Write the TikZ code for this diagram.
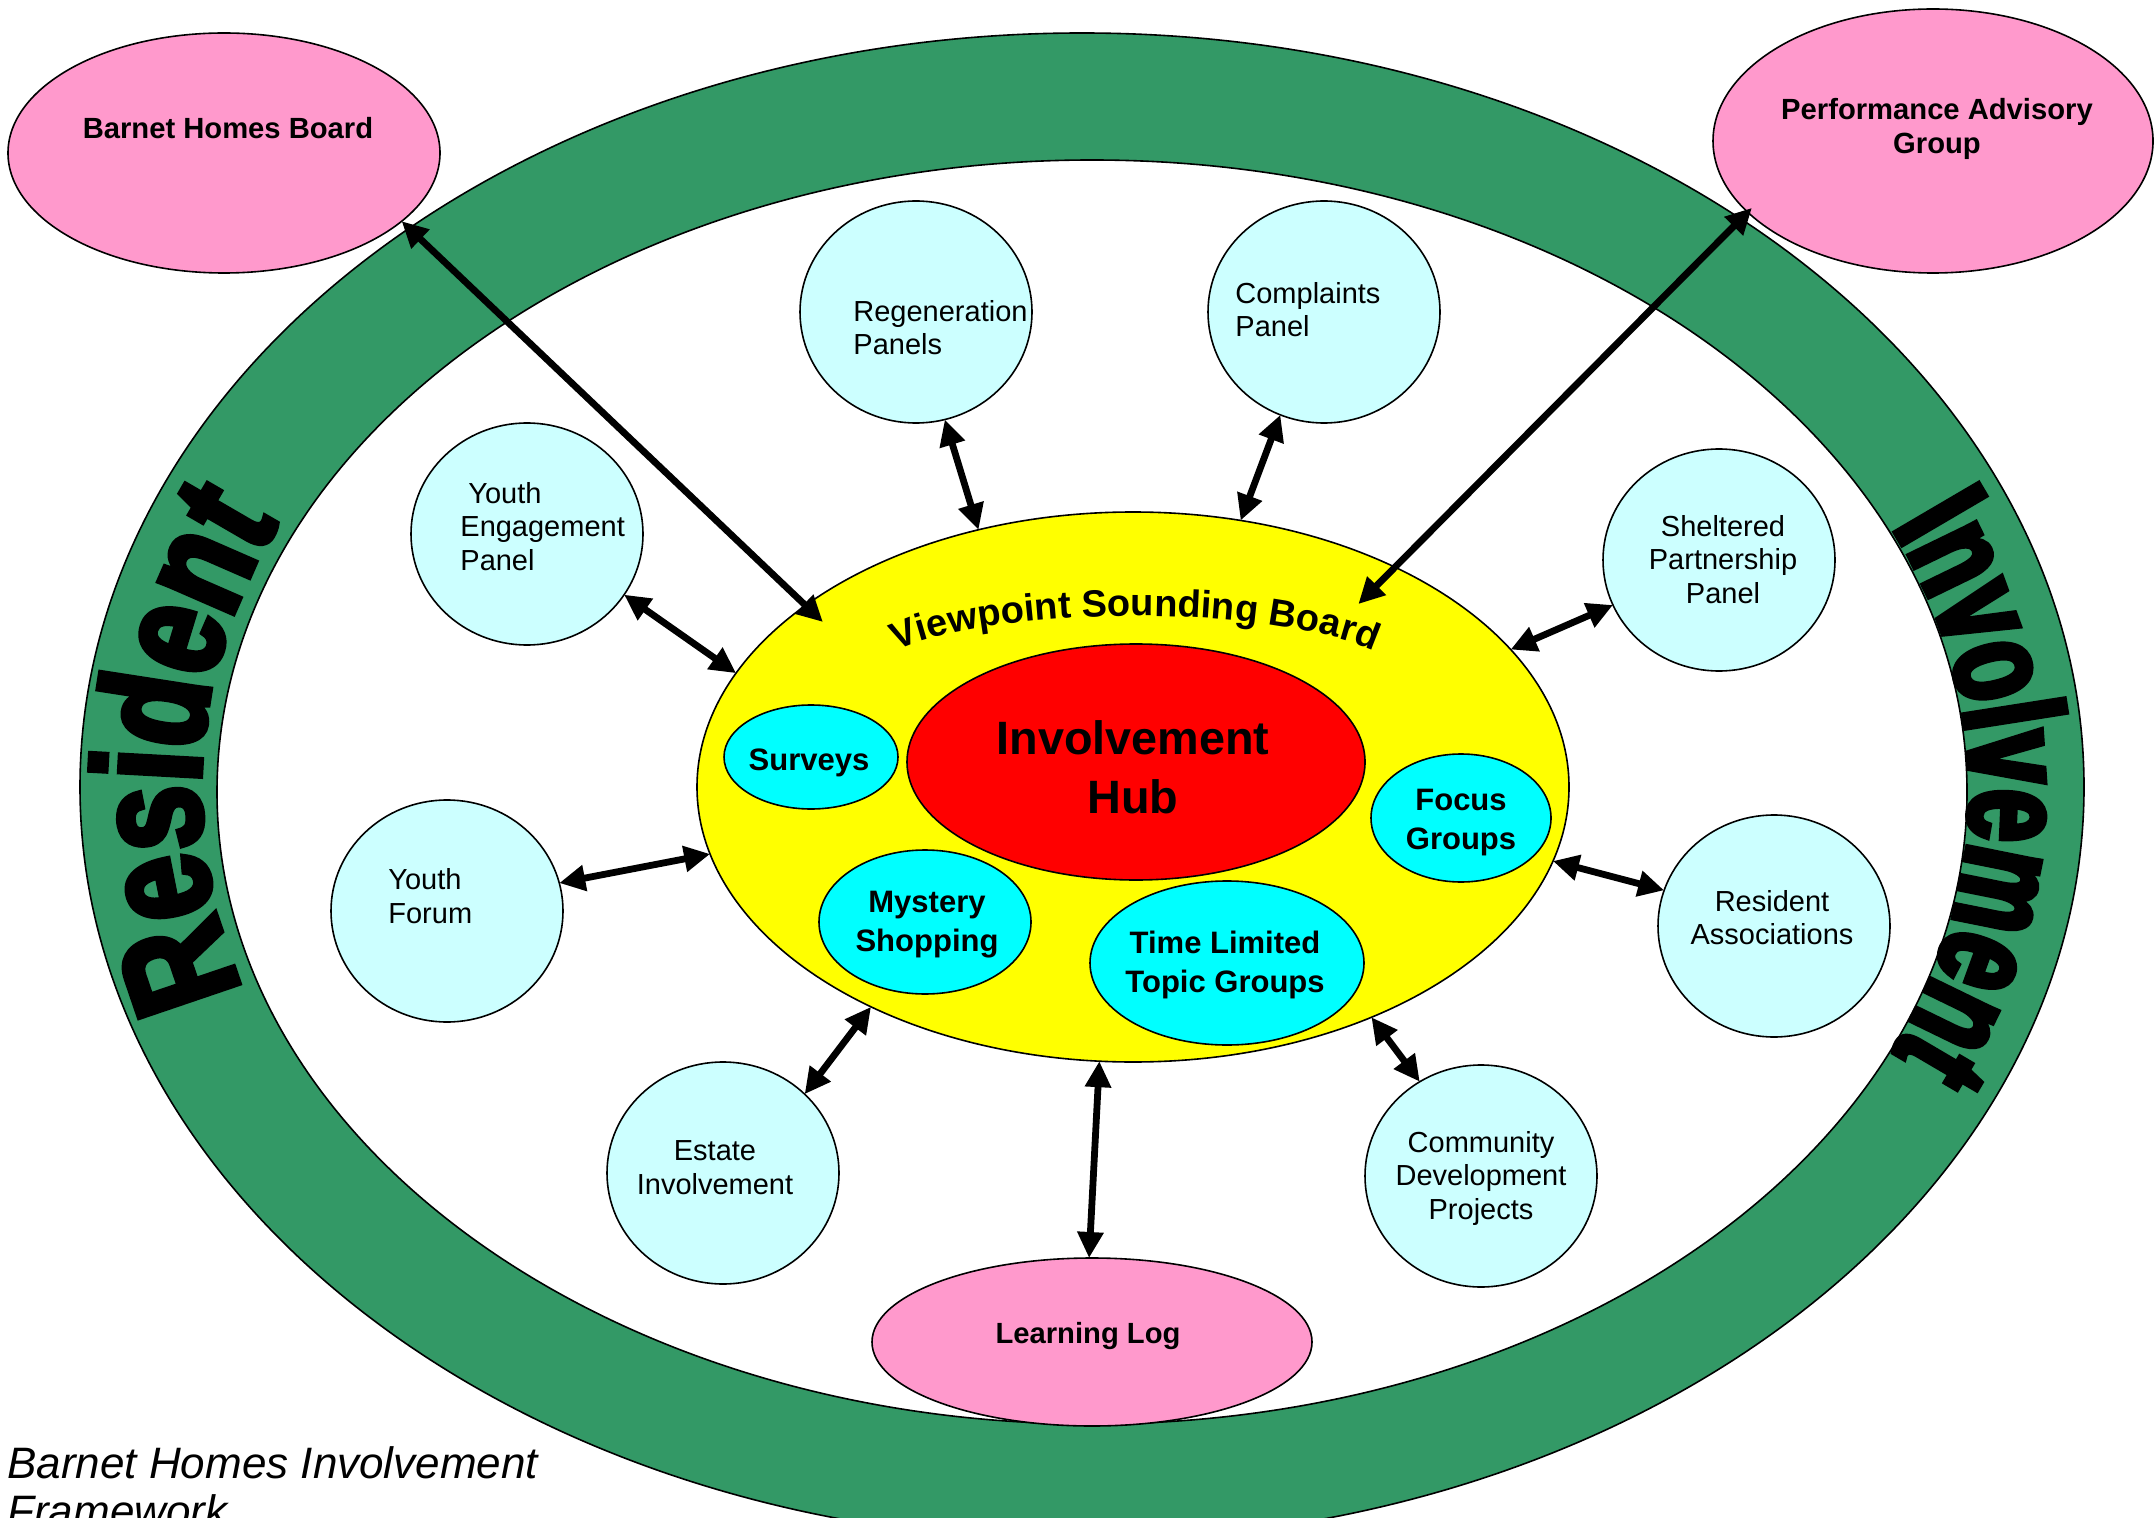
\documentclass[tikz,border=0pt]{standalone}
\usepackage{fontspec}
\setmainfont{Liberation Sans}
\newfontfamily\ringA[FakeStretch=0.76, BoldFeatures={FakeBold=4}]{Liberation Sans}
\newfontfamily\ringB[FakeStretch=0.68, BoldFeatures={FakeBold=4}]{Liberation Sans}
\usetikzlibrary{shapes.geometric, arrows.meta, decorations.text}
\definecolor{ringgreen}{HTML}{339966}
\definecolor{pinkfill}{HTML}{FF99CC}
\definecolor{panelcyan}{HTML}{CCFFFF}
\definecolor{methodcyan}{HTML}{00FFFF}
\definecolor{sbyellow}{HTML}{FFFF00}
\definecolor{hubred}{HTML}{FF0000}
\newcommand\resfnt{\ringA\bfseries\fontsize{76}{76}\selectfont}
\newcommand\invfnt{\ringB\bfseries\fontsize{70}{70}\selectfont}
\newcommand\vsbfnt{\bfseries\fontsize{19}{19}\selectfont}
\begin{document}
\begin{tikzpicture}[x=0.5pt, y=-0.5pt,
  oval/.style={ellipse, draw=black, line width=0.8pt, inner sep=0pt, outer sep=0pt},
  panel/.style={oval, fill=panelcyan, minimum width=116pt, minimum height=111pt},
  board/.style={oval, fill=pinkfill},
  method/.style={oval, fill=methodcyan},
  lbl/.style={font=\fontsize{14.5}{16.75}\selectfont, inner sep=0pt},
  blbl/.style={font=\bfseries\fontsize{15.5}{19.5}\selectfont, inner sep=0pt},
  plbl/.style={font=\bfseries\fontsize{14.6}{17}\selectfont, inner sep=0pt},
  link/.style={line width=3.4pt, {Triangle[length=13pt,width=12.5pt]}-{Triangle[length=13pt,width=12.5pt]}},
  captxt/.style={font=\itshape\fontsize{22}{24}\selectfont, anchor=base west, inner sep=0pt}
]
\fill[white] (0,0) rectangle (2156,1518);
\useasboundingbox (0,0) rectangle (2156,1518);

% green ring
\fill[ringgreen, even odd rule] (1082,787) ellipse [x radius=1002, y radius=754]
  (1092,792) ellipse [x radius=875, y radius=632];
\draw[line width=0.8pt] (1082,787) ellipse [x radius=1002, y radius=754];
\draw[line width=0.8pt] (1092,792) ellipse [x radius=875, y radius=632];

% ring words
\path[decorate, decoration={text along path, text={|\resfnt|Resident}, text align=center}]
  plot[domain=150:216, samples=90] ({1087+887*cos(\x)}, {790+650*sin(\x)});
\path[decorate, decoration={text along path, text={|\invfnt|Involvement}, text align=center}]
  plot[domain=-41:41, samples=90] ({1087+883*cos(\x)}, {790+640*sin(\x)});

% outer boards
\node[board, minimum width=216pt, minimum height=120pt] (bhb) at (224,153) {};
\node[board, minimum width=220pt, minimum height=132pt] (pag) at (1933,141) {};
\node[board, minimum width=220pt, minimum height=84pt] (llog) at (1092,1342) {};

% panels
\node[panel] (regen) at (916,312) {};
\node[panel] (compl) at (1324,312) {};
\node[panel] (yep) at (527,534) {};
\node[panel] (shelt) at (1719,560) {};
\node[panel] (yforum) at (447,911) {};
\node[panel] (resassoc) at (1774,926) {};
\node[panel] (estate) at (723,1173) {};
\node[panel] (commdev) at (1481,1176) {};

% sounding board and hub
\node[oval, fill=sbyellow, minimum width=436pt, minimum height=275pt] (vsb) at (1133,787) {};
\node[oval, fill=hubred, minimum width=229pt, minimum height=118pt] (hub) at (1136,762) {};
\node[method, minimum width=87pt, minimum height=52pt] (surveys) at (811,757) {};
\node[method, minimum width=90pt, minimum height=64pt] (focus) at (1461,818) {};
\node[method, minimum width=106pt, minimum height=72pt] (mystery) at (925,922) {};
\node[method, minimum width=137pt, minimum height=82pt] (tltg) at (1227,963) {};

\path[decorate, decoration={text along path, text={|\vsbfnt|Viewpoint Sounding Board}, text align=center}]
  plot[domain=5:175, samples=90] ({1135-265*cos(\x)}, {678-62*sin(\x)});

% connectors
\draw[link, shorten >=-12pt] (bhb.-21) -- (vsb.151);
\draw[link, shorten >=-26pt, shorten <=-3pt] (pag.-159) -- (vsb.40);
\draw[link] (regen.-75) -- (vsb.121);
\draw[link] (compl.-113) -- (vsb.68);
\draw[link] (yep.-32) -- (vsb.164);
\draw[link] (shelt.-157) -- (vsb.20);
\draw[link] (yforum.14) -- (vsb.-171);
\draw[link] (resassoc.162) -- (vsb.-10);
\draw[link] (estate.44) -- (vsb.-140);
\draw[link] (commdev.123) -- (vsb.-44);
\draw[link] (llog.92) -- (vsb.-97);

% labels
\node[lbl, align=left, anchor=west] (regenT) at (853,327.5) {Regeneration\\Panels};
\node[lbl, align=left, anchor=west] (complT) at (1235,309.5) {Complaints\\Panel};
\node[lbl, align=left, anchor=west] (yepT) at (460,526.5) {\hspace*{4pt}Youth\\Engagement\\Panel};
\node[lbl, align=center] (sheltT) at (1723,559.5) {Sheltered\\Partnership\\Panel};
\node[lbl, align=left, anchor=west] (yforumT) at (388,896) {Youth\\Forum};
\node[lbl, align=center] (resT) at (1772,917.5) {Resident\\Associations};
\node[lbl, align=center] (estateT) at (715,1167.5) {Estate\\Involvement};
\node[lbl, align=center] (commT) at (1481,1178) {Community\\Development\\Projects};

\node[blbl] (surveysT) at (809,763) {Surveys};
\node[blbl, align=center] (focusT) at (1461,823) {Focus\\Groups};
\node[blbl, align=center] (mysteryT) at (927,924.5) {Mystery\\Shopping};
\node[blbl, align=center] (tltgT) at (1225,964.5) {Time Limited\\Topic Groups};
\node[font=\bfseries\fontsize{23.4}{29.5}\selectfont, align=center, inner sep=0pt] (hubT) at (1133,767) {Involvement\\Hub};

\node[plbl] (bhbT) at (228,128) {Barnet Homes Board};
\node[plbl, align=center] (pagT) at (1937,129) {Performance Advisory\\Group};
\node[plbl] (llogT) at (1088,1336) {Learning Log};

\node[captxt] (cap1) at (7,1478) {Barnet Homes Involvement};
\node[captxt] (cap2) at (7,1526) {Framework};
\end{tikzpicture}
\end{document}
